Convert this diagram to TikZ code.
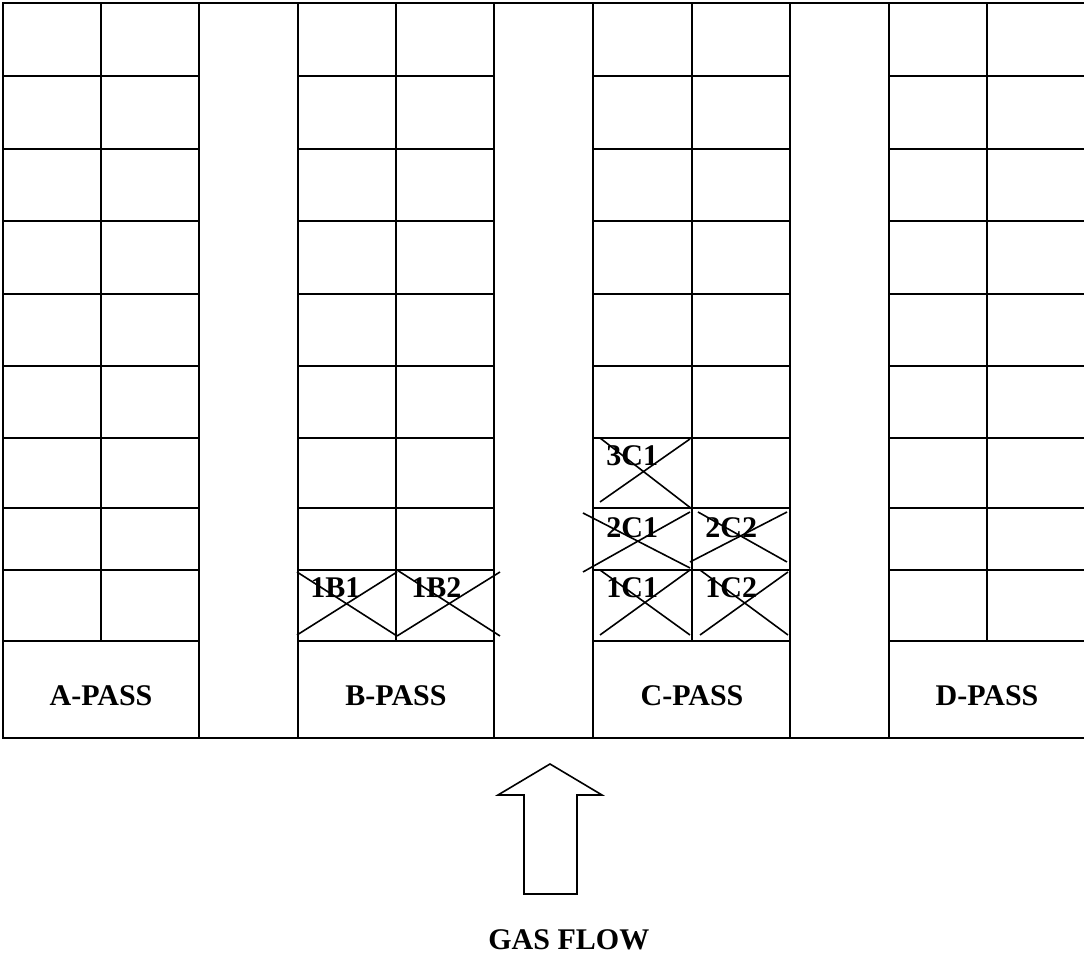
\documentclass[tikz,border=0pt]{standalone}
\usepackage{fontspec}
\setmainfont{Liberation Serif}
\begin{document}
\begin{tikzpicture}[x=0.5pt,y=-0.5pt,
  grid/.style={line width=1.2pt,line cap=rect},
  cross/.style={line width=0.8pt},
  flow/.style={line width=0.8pt,line join=miter},
  lbl/.style={font=\fontsize{15}{18}\selectfont\bfseries,inner sep=0pt},
  cell/.style={font=\fontsize{15}{18}\selectfont\bfseries,inner sep=0pt,anchor=base west}]
\useasboundingbox (0,0) rectangle (1084,956);
% outer lines
\draw[grid] (3,3) -- (1084,3);
\draw[grid] (3,738) -- (1084,738);
\foreach \x in {3,199,298,494,593,790,889} \draw[grid] (\x,3) -- (\x,738);
\foreach \x in {101,396,692,987} \draw[grid] (\x,3) -- (\x,641);
\foreach \y in {76,149,221,294,366,438,508,570,641} {
  \draw[grid] (3,\y) -- (199,\y);
  \draw[grid] (298,\y) -- (494,\y);
  \draw[grid] (593,\y) -- (790,\y);
  \draw[grid] (889,\y) -- (1084,\y);
}
% crosses
\draw[cross] (297,572) -- (397,636) (297,635) -- (397,572);
\draw[cross] (397,570) -- (500,636) (397,636) -- (500,572);
\draw[cross] (600,438) -- (692,509) (600,502) -- (690,439);
\draw[cross] (583,513) -- (690,568) (583,572) -- (690,512);
\draw[cross] (690,562) -- (787,512) (698,512) -- (787,562);
\draw[cross] (600,570) -- (690,635) (600,635) -- (690,570);
\draw[cross] (700,570) -- (788,635) (700,635) -- (788,572);
% cell labels
\node[cell] (l1b1) at (310,598) {1B1};
\node[cell] (l1b2) at (411,598) {1B2};
\node[cell] (l3c1) at (606,466) {3C1};
\node[cell] (l2c1) at (606,538) {2C1};
\node[cell] (l2c2) at (705,538) {2C2};
\node[cell] (l1c1) at (606,598) {1C1};
\node[cell] (l1c2) at (705,598) {1C2};
% pass labels
\node[lbl,anchor=base] (pa) at (101,706) {A-PASS};
\node[lbl,anchor=base] (pb) at (396,706) {B-PASS};
\node[lbl,anchor=base] (pc) at (692,706) {C-PASS};
\node[lbl,anchor=base] (pd) at (987,706) {D-PASS};
% arrow
\draw[flow] (550,764) -- (602,795) -- (577,795) -- (577,894) -- (524,894) -- (524,795) -- (498,795) -- cycle;
\node[lbl,anchor=base west] (gas) at (488,950) {GAS FLOW};
\end{tikzpicture}
\end{document}
